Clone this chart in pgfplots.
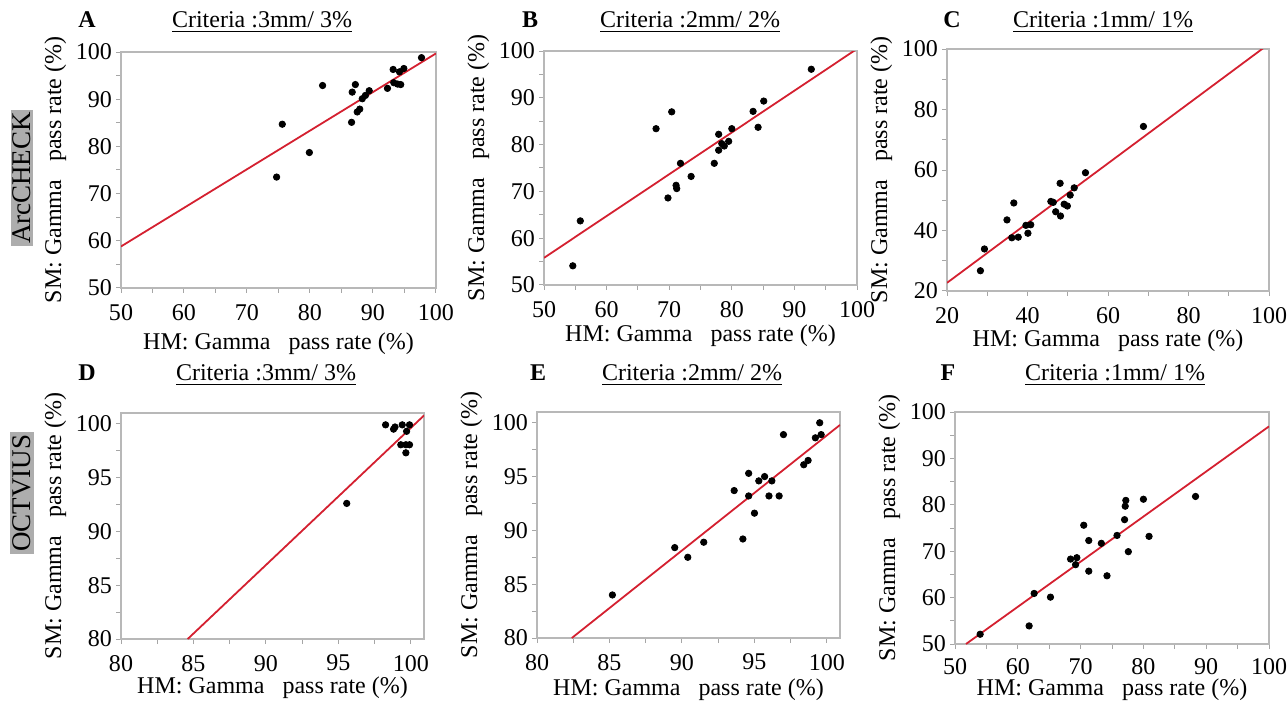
\documentclass[border=0pt]{standalone}
\usepackage{fontspec}
\setmainfont{Liberation Serif}
\usepackage{pgfplots}
\pgfplotsset{compat=1.18}
\definecolor{fitred}{HTML}{D42030}

\pgfplotsset{
  panel/.style={
    scale only axis,
    axis line style={black!28, line width=0.6pt},
    tick style={black!35, line width=0.5pt},
    major tick length=2.5pt, minor tick length=2.5pt,
    tick align=outside, tick pos=left,
    minor tick num=1,
    /pgf/number format/assume math mode=true,
    tick label style={font=\fontsize{12}{13}\selectfont},
    xticklabel style={yshift=-2pt},
    yticklabel style={xshift=1.5pt},
    label style={font=\fontsize{12}{14}\selectfont},
    xlabel={HM: Gamma\ \ \ pass rate (\%)},
    ylabel={SM: Gamma\ \ \ pass rate (\%)},
    ylabel style={yshift=-2pt},
  },
  dots/.style={only marks, mark=*, mark size=1.6pt, black},
  fit/.style={fitred, line width=0.9pt, no marks},
}

\begin{document}
\begin{tikzpicture}
\useasboundingbox (0,0) rectangle (644pt,351pt);

% row labels
\node[fill=black!32, rotate=90, inner sep=1.2pt, font=\fontsize{13.5}{15}\selectfont] at (11pt,262pt) {ArcCHECK};
\node[fill=black!32, rotate=90, inner sep=1.2pt, font=\fontsize{13.5}{15}\selectfont] at (11pt,104.5pt) {OCTVIUS};

% panel letters and titles
\begin{scope}[every node/.style={font=\fontsize{12}{14}\selectfont}]
\node[font=\bfseries\fontsize{12}{14}\selectfont] at (43.5pt,341pt) {A};
\node[font=\bfseries\fontsize{12}{14}\selectfont] at (265pt,341pt) {B};
\node[font=\bfseries\fontsize{12}{14}\selectfont] at (476pt,341pt) {C};
\node[font=\bfseries\fontsize{12}{14}\selectfont] at (43.5pt,164.5pt) {D};
\node[font=\bfseries\fontsize{12}{14}\selectfont] at (269pt,164.5pt) {E};
\node[font=\bfseries\fontsize{12}{14}\selectfont] at (474pt,164.5pt) {F};
\node at (131pt,340pt) {\underline{Criteria :3mm/ 3\%}};
\node at (345pt,340pt) {\underline{Criteria :2mm/ 2\%}};
\node at (551.5pt,340pt) {\underline{Criteria :1mm/ 1\%}};
\node at (133pt,163.5pt) {\underline{Criteria :3mm/ 3\%}};
\node at (346pt,163.5pt) {\underline{Criteria :2mm/ 2\%}};
\node at (557.5pt,163.5pt) {\underline{Criteria :1mm/ 1\%}};
\end{scope}

% A: ArcCHECK 3mm/3%
\begin{axis}[panel, at={(60.5pt,207pt)}, anchor=south west,
  width=157.5pt, height=118pt,
  xmin=50, xmax=100, ymin=50, ymax=100,
  xtick={50,60,...,100}, ytick={50,60,...,100},
  xlabel style={yshift=0.5pt}]
\addplot[fit] coordinates {(50,58.8) (100,99.7)};
\addplot[dots] coordinates {
(74.7,73.5) (75.6,84.7) (79.9,78.7) (82.0,92.9) (86.6,85.1) (86.7,91.5)
(87.2,93.1) (87.5,87.3) (87.9,87.9) (88.3,90.1) (88.8,90.8) (89.4,91.8)
(92.3,92.3) (93.2,96.3) (93.3,93.5) (93.9,93.2) (94.4,93.1) (94.2,95.8)
(94.9,96.5) (97.7,98.8)};
\end{axis}

% B: ArcCHECK 2mm/2%
\begin{axis}[panel, at={(272pt,208.5pt)}, anchor=south west,
  width=156.5pt, height=117pt,
  xmin=50, xmax=100, ymin=50, ymax=100,
  xtick={50,60,...,100}, ytick={50,60,...,100},
  xlabel style={yshift=3pt}]
\addplot[fit] coordinates {(50,55.8) (100,100.45)};
\addplot[dots] coordinates {
(54.6,54.1) (55.8,63.7) (67.9,83.4) (70.4,87.0) (69.8,68.6) (71.1,71.3)
(71.2,70.6) (71.8,76.0) (73.5,73.2) (77.2,76.0) (77.9,82.2) (77.9,78.8)
(78.4,80.2) (78.8,79.7) (79.5,80.7) (80.0,83.4) (83.4,87.1) (84.2,83.7)
(85.1,89.3) (92.7,96.1)};
\end{axis}

% C: ArcCHECK 1mm/1%
\begin{axis}[panel, at={(473.5pt,205.5pt)}, anchor=south west,
  width=161pt, height=121pt,
  xmin=20, xmax=100, ymin=20, ymax=100,
  xtick={20,40,...,100}, ytick={20,40,...,100},
  xlabel style={yshift=3.5pt}]
\addplot[fit] coordinates {(20,22.7) (100,101.7)};
\addplot[dots] coordinates {
(28.3,26.7) (29.3,33.9) (34.9,43.5) (36.1,37.6) (36.6,49.1) (37.7,37.8)
(40.1,39.1) (39.6,41.7) (40.8,41.9) (45.8,49.6) (46.4,49.3) (47.0,46.2)
(48.1,55.6) (48.2,44.8) (49.1,48.7) (49.9,48.1) (50.6,51.7) (51.6,54.1)
(54.4,59.1) (68.8,74.4)};
\end{axis}

% D: OCTAVIUS 3mm/3%
\begin{axis}[panel, at={(60.5pt,31.5pt)}, anchor=south west,
  width=151.5pt, height=113pt,
  xmin=80, xmax=100.9, ymin=80, ymax=101,
  xtick={80,85,...,100}, ytick={80,85,...,100},
  xlabel style={yshift=4pt}]
\addplot[fit] coordinates {(84.6,80) (100.9,100.77)};
\addplot[dots] coordinates {
(95.57,92.6) (98.25,99.9) (98.8,99.5) (98.9,99.7) (99.4,99.9) (99.9,99.9)
(99.7,99.3) (99.3,98.05) (99.65,98.05) (99.9,98.05) (99.65,97.3)};
\end{axis}

% E: OCTAVIUS 2mm/2%
\begin{axis}[panel, at={(268.5pt,32pt)}, anchor=south west,
  width=151.5pt, height=113pt,
  xmin=80, xmax=100.9, ymin=80, ymax=101,
  xtick={80,85,...,100}, ytick={80,85,...,100},
  xlabel style={yshift=2.5pt}]
\addplot[fit] coordinates {(82.4,80) (100.9,99.8)};
\addplot[dots] coordinates {
(85.2,84.0) (89.5,88.4) (90.4,87.5) (91.5,88.9) (93.6,93.7) (94.2,89.2)
(94.6,95.3) (94.6,93.2) (95.0,91.6) (95.3,94.6) (95.7,95.0) (96.0,93.2)
(96.2,94.6) (96.7,93.2) (97.0,98.9) (98.4,96.1) (98.7,96.5) (99.2,98.6)
(99.5,100) (99.6,98.9)};
\end{axis}

% F: OCTAVIUS 1mm/1%
\begin{axis}[panel, at={(477.5pt,29pt)}, anchor=south west,
  width=157pt, height=116pt,
  xmin=50, xmax=100, ymin=50, ymax=100,
  xtick={50,60,...,100}, ytick={50,60,...,100},
  xticklabel style={yshift=1pt},
  xlabel style={yshift=4.5pt}]
\addplot[fit] coordinates {(51.75,50) (100,96.9)};
\addplot[dots] coordinates {
(54.0,52.1) (61.8,53.9) (62.6,60.9) (65.2,60.1) (68.4,68.3) (69.4,68.6)
(69.2,67.1) (70.5,75.6) (71.3,72.3) (71.3,65.7) (73.3,71.7) (74.2,64.7)
(75.8,73.4) (77.0,76.8) (77.1,79.7) (77.2,80.95) (77.6,69.9) (80.0,81.2)
(80.9,73.2) (88.3,81.8)};
\end{axis}
\end{tikzpicture}
\end{document}
